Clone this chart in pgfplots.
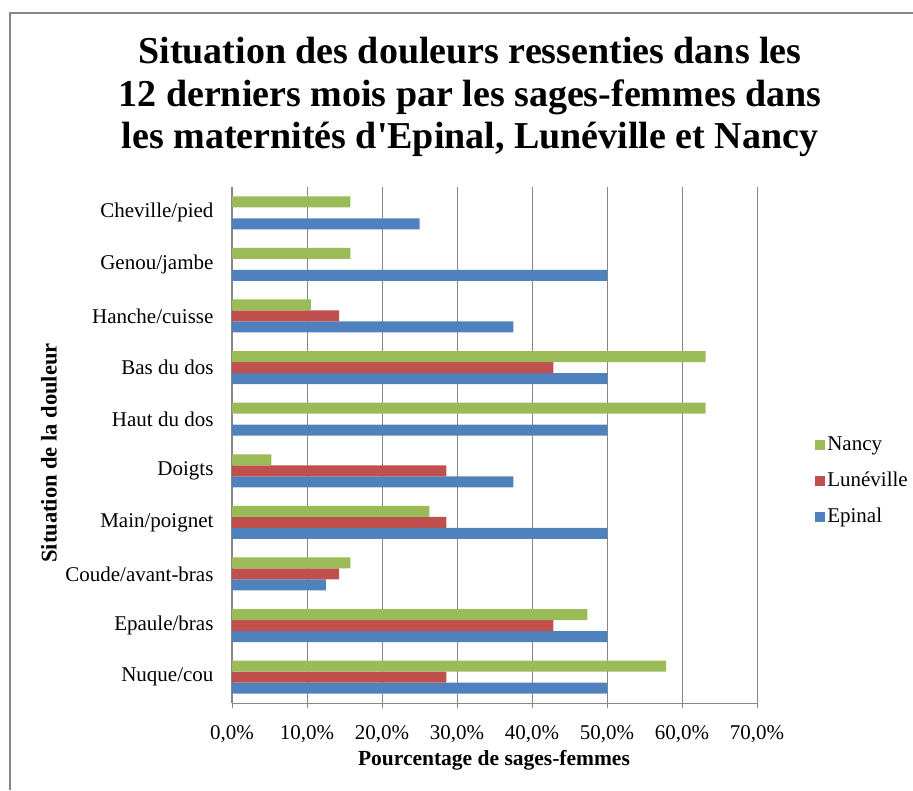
\documentclass[border=0pt]{standalone}
\usepackage{fontspec}
\setmainfont{Liberation Serif}
\usepackage{pgfplots}
\pgfplotsset{compat=1.18}
\definecolor{cblue}{HTML}{4F81BD}
\definecolor{cred}{HTML}{C0504D}
\definecolor{cgreen}{HTML}{9BBB59}
\definecolor{gridgray}{HTML}{868686}
\pgfplotsset{sq/.style={legend image code/.code={\fill[##1] (0pt,-5pt) rectangle (10pt,5pt);}}}
\begin{document}
\begin{tikzpicture}[x=1pt,y=1pt]
\path[use as bounding box] (0,0) rectangle (913,790);
\draw[gridgray, line width=1.5pt] (10,0) -- (10,777) -- (913,777);
\node[font=\bfseries\fontsize{38}{42.5}\selectfont, align=center, anchor=base] at (470,641) {Situation des douleurs ressenties dans les\\12 derniers mois par les sages-femmes dans\\les maternités d\textquotesingle Epinal, Lunéville et Nancy};
\begin{axis}[
  at={(232pt,87pt)}, anchor=south west,
  scale only axis, width=525pt, height=516pt,
  xbar, bar width=11pt,
  xmin=0, xmax=70, ymin=-0.5, ymax=9.5,
  ytick={0,...,9},
  yticklabels={Nuque/cou,Epaule/bras,Coude/avant-bras,Main/poignet,Doigts,Haut du dos,Bas du dos,Hanche/cuisse,Genou/jambe,Cheville/pied},
  xtick={0,10,...,70},
  xticklabels={{0,0\%},{10,0\%},{20,0\%},{30,0\%},{40,0\%},{50,0\%},{60,0\%},{70,0\%}},
  xmajorgrids, grid style={gridgray, line width=0.9pt},
  axis x line*=bottom, axis y line*=left,
  axis line style={gridgray, line width=1pt},
  tick align=outside, major tick length=5pt,
  xtick style={gridgray, line width=0.9pt},
  ytick style={draw=none},
  tick label style={font=\fontsize{21}{24}\selectfont, black},
  xticklabel style={anchor=base, yshift=-31pt},
  yticklabel style={anchor=east, xshift=-10pt},
  xlabel={Pourcentage de sages-femmes},
  ylabel={Situation de la douleur},
  label style={font=\bfseries\fontsize{21.5}{24}\selectfont},
  ylabel style={font=\bfseries\fontsize{22.5}{24}\selectfont},
  xlabel style={at={(axis description cs:0.499,-0.1105)}, anchor=center},
  ylabel style={at={(axis description cs:-0.3486,0.4845)}, anchor=center},
  reverse legend,
  legend cell align=left,
  legend style={draw=none, fill=none, at={(1.105,0.43)}, anchor=west,
    font=\fontsize{21}{24}\selectfont, row sep=14pt,
    nodes={inner sep=2pt, text height=14pt, text depth=4pt},
    /tikz/every even column/.append style={column sep=3pt}},
]
\addplot[fill=cblue, draw=none, bar shift=-11pt, sq] coordinates {
(50,0) (50,1) (12.5,2) (50,3) (37.5,4) (50,5) (50,6) (37.5,7) (50,8) (25,9)};
\addplot[fill=cred, draw=none, bar shift=0pt, sq] coordinates {
(28.57,0) (42.86,1) (14.29,2) (28.57,3) (28.57,4) (42.86,6) (14.29,7)};
\addplot[fill=cgreen, draw=none, bar shift=11pt, sq] coordinates {
(57.89,0) (47.37,1) (15.79,2) (26.32,3) (5.26,4) (63.16,5) (63.16,6) (10.53,7) (15.79,8) (15.79,9)};
\legend{Epinal,Lunéville,Nancy}
\end{axis}
\end{tikzpicture}
\end{document}
